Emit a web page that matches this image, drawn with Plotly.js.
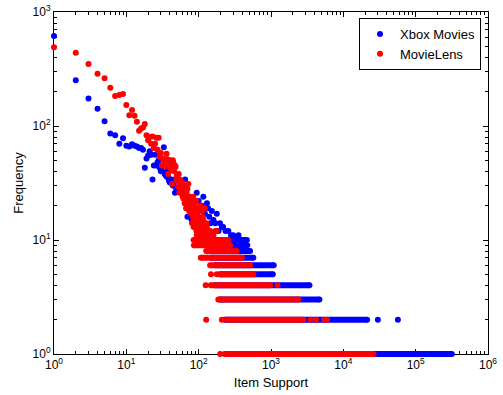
<!DOCTYPE html>
<html>
<head>
<meta charset="utf-8">
<script src="https://cdn.plot.ly/plotly-3.0.1.min.js"></script>
<style>html,body{margin:0;padding:0;background:#fff;}#chart{width:503px;height:395px;}</style>
</head>
<body>
<div id="chart"></div>
<script>
// ---- Data ----
// Xbox Movies: individual (support, frequency) points
var xboxSupport = [1,2,3,4,5,6,7,8,9,10,11,12,13,14,15,16,17,18,19,20,21,22,23,24,25,26,27,28,29,30,31,32,33,34,35,36,37,38,39,40,42,44,45,47,48,50,52,55,58,60,62,65,68,70,72,75,80,85,90,94,100,105,110,116,122,130,135,140,145,152,160,170,178,188,197,210,218,235,257,280,300,355];
var xboxFreq    = [615,252,174,142,110,86,83,70,78,67,66,69,67,66,64,64,62,43,52,55,60,56,34,45,56,45,48,50,43,40,41,44,65,38,37,36,40,35,33,32,34,30,31,26,29,36,28,28,26,25,25,34,22,16,23,21,15,20,18,26,22,12,20,24,17,21,19,16,14,18,15,14,17,12,14,13,13,12,12,11,11,11];
// Xbox Movies: dense runs at integer frequencies (frequency, first support, last support)
var xboxBandFreq  = [1, 2, 3, 4, 5, 6, 7, 8, 9, 10];
var xboxBandStart = [232, 230, 200, 170, 200, 170, 150, 150, 150, 130];
var xboxBandEnd   = [316000, 21300, 4670, 3400, 1060, 1090, 570, 514, 470, 464];
var xboxExtraSupport = [30000, 56800];
var xboxExtraFreq    = [2, 2];

// MovieLens: individual (support, frequency) points
var mlSupport = [1,2,3,4,5,6,7,8,9,10,11,12,13,14,15,16,17,18,19,20,21,22,23,24,25,26,27,28,29,30,31,32,33,34,35,36,37,38,39,40,41,42,43,44,45,46,47,48,49,50,51,52,53,54,55,56,57,58,59,60,61,62,63,64,65,66,67,68,69,70,71,72,73,74,75,76,77,78,79,80,81,82,83,84,85,86,87,88,89,90,91,92,93,94,95,96,97,98,99,100,102,104,105,107,108,110,112,114,116,118,120,122,125,128,130,133,136,140,144,150,160,170,178];
var mlFreq    = [491,440,350,288,262,217,183,187,191,153,124,138,123,109,91,95,97,104,83,75,80,70,81,64,70,79,62,79,54,58,45,52,50,47,44,57,51,38,46,50,43,41,31,50,47,40,45,44,35,37,33,29,38,26,34,30,27,29,32,24,28,23,30,21,27,25,19,26,22,28,20,31,24,18,22,24,20,17,23,19,14,21,16,24,13,18,15,20,15,13,17,22,12,11,16,19,14,12,16,18,13,15,20,11,14,18,12,16,15,11,13,19,12,14,13,11,12,11,12,11,11,12,12];
// MovieLens: dense runs at integer frequencies
var mlBandFreq  = [1, 2, 3, 4, 5, 6, 7, 8, 9, 10];
var mlBandStart = [232, 245, 187, 147, 198, 144, 107, 127, 86, 85];
var mlBandEnd   = [26100, 2800, 2390, 972, 571, 514, 394, 336, 272, 257];
var mlExtraSupport = [198, 127, 209, 3550, 4200, 5420, 5970, 125, 1230, 148, 178];
var mlExtraFreq    = [1, 2, 2, 2, 2, 2, 2, 4, 4, 5, 5];

var seriesNames = ['Xbox Movies', 'MovieLens'];
var xTickVals = [1, 10, 100, 1000, 10000, 100000, 1000000];
var xTickText = ['10<sup>0</sup>','10<sup>1</sup>','10<sup>2</sup>','10<sup>3</sup>','10<sup>4</sup>','10<sup>5</sup>','10<sup>6</sup>'];
var yTickVals = [1, 10, 100, 1000];
var yTickText = ['10<sup>0</sup>','10<sup>1</sup>','10<sup>2</sup>','10<sup>3</sup>'];

// ---- Geometry (pixels) ----
var W = 503, H = 395;
var PAD = 10;                                  // data layer extends PAD px beyond the axes box
var box = {l: 54, r: 488, t: 12, b: 354};      // axes box in page pixels
var xDec = [0, 6], yDec = [0, 3];              // log10 ranges of the axes
var m = {l: box.l - PAD, r: W - box.r - PAD, t: box.t - PAD, b: H - box.b - PAD};
var pw = W - m.l - m.r, ph = H - m.t - m.b;
var xSpan = (xDec[1] - xDec[0]) * pw / (box.r - box.l);
var ySpan = (yDec[1] - yDec[0]) * ph / (box.b - box.t);
var x2Range = [xDec[0] - PAD / pw * xSpan, xDec[0] - PAD / pw * xSpan + xSpan];
var y2Range = [yDec[0] - PAD / ph * ySpan, yDec[0] - PAD / ph * ySpan + ySpan];

// ---- Build traces ----
var BLUE = '#0000ff', RED = '#ff0000', MS = 6;
function bandTrace(freq, start, end, color, group) {
  var x = [], y = [];
  for (var i = 0; i < freq.length; i++) {
    x.push(start[i], end[i], null);
    y.push(freq[i], freq[i], null);
  }
  return {x: x, y: y, xaxis: 'x2', yaxis: 'y2', type: 'scatter', mode: 'lines+markers', connectgaps: false,
    line: {color: color, width: MS}, marker: {color: color, size: MS},
    showlegend: false, legendgroup: group, hoverinfo: 'skip'};
}
function pointTrace(x, y, color, name, group, legend) {
  return {x: x, y: y, xaxis: 'x2', yaxis: 'y2', type: 'scatter', mode: 'markers', name: name,
    marker: {color: color, size: MS}, legendgroup: group, showlegend: legend};
}
var traces = [
  // empty trace so the visible (framed) axes are drawn
  {x: [], y: [], xaxis: 'x', yaxis: 'y', type: 'scatter', mode: 'markers', showlegend: false, hoverinfo: 'skip'},
  bandTrace(xboxBandFreq, xboxBandStart, xboxBandEnd, BLUE, 'x'),
  pointTrace(xboxExtraSupport, xboxExtraFreq, BLUE, seriesNames[0], 'x', false),
  pointTrace(xboxSupport, xboxFreq, BLUE, seriesNames[0], 'x', true),
  bandTrace(mlBandFreq, mlBandStart, mlBandEnd, RED, 'm'),
  pointTrace(mlExtraSupport, mlExtraFreq, RED, seriesNames[1], 'm', false),
  pointTrace(mlSupport, mlFreq, RED, seriesNames[1], 'm', true)
];

function minorVals(d0, d1) {
  var v = [];
  for (var d = d0; d < d1; d++) for (var k = 2; k <= 9; k++) v.push(k * Math.pow(10, d));
  return v;
}
var font = {family: 'Liberation Sans, Arial, sans-serif', size: 12, color: '#000'};
var font13 = {family: 'Liberation Sans, Arial, sans-serif', size: 13, color: '#000'};
var axisBase = {
  type: 'log', showgrid: false, zeroline: false, showline: true, linecolor: '#000', linewidth: 1,
  mirror: 'allticks', ticks: 'inside', ticklen: 5, tickcolor: '#000', tickwidth: 1,
  tickmode: 'array', tickfont: font
};
var layout = {
  width: W, height: H,
  margin: m,
  paper_bgcolor: '#fff', plot_bgcolor: 'rgba(0,0,0,0)',
  font: font,
  xaxis: Object.assign({}, axisBase, {
    anchor: 'y',
    domain: [PAD / pw, 1 - PAD / pw],
    range: xDec, tickvals: xTickVals, ticktext: xTickText,
    minor: {tickmode: 'array', tickvals: minorVals(0, 6), ticks: 'inside', ticklen: 3, tickcolor: '#000', tickwidth: 1},
    title: {text: 'Item Support', font: font13, standoff: 6}
  }),
  yaxis: Object.assign({}, axisBase, {
    anchor: 'x',
    domain: [PAD / ph, 1 - PAD / ph],
    range: yDec, tickvals: yTickVals, ticktext: yTickText,
    minor: {tickmode: 'array', tickvals: minorVals(0, 3), ticks: 'inside', ticklen: 3, tickcolor: '#000', tickwidth: 1},
    title: {text: 'Frequency', font: font13, standoff: 6}
  }),
  xaxis2: {type: 'log', domain: [0, 1], range: x2Range, anchor: 'y2', visible: false, showgrid: false, zeroline: false},
  yaxis2: {type: 'log', domain: [0, 1], range: y2Range, anchor: 'x2', visible: false, showgrid: false, zeroline: false},
  legend: {x: (481 - m.l) / pw, y: (H - m.b - 18) / ph, xanchor: 'right', yanchor: 'top', bgcolor: '#fff',
    bordercolor: '#000', borderwidth: 1, font: font13, tracegroupgap: 0},
  showlegend: true
};
Plotly.newPlot('chart', traces, layout, {staticPlot: true});
</script>
</body>
</html>
